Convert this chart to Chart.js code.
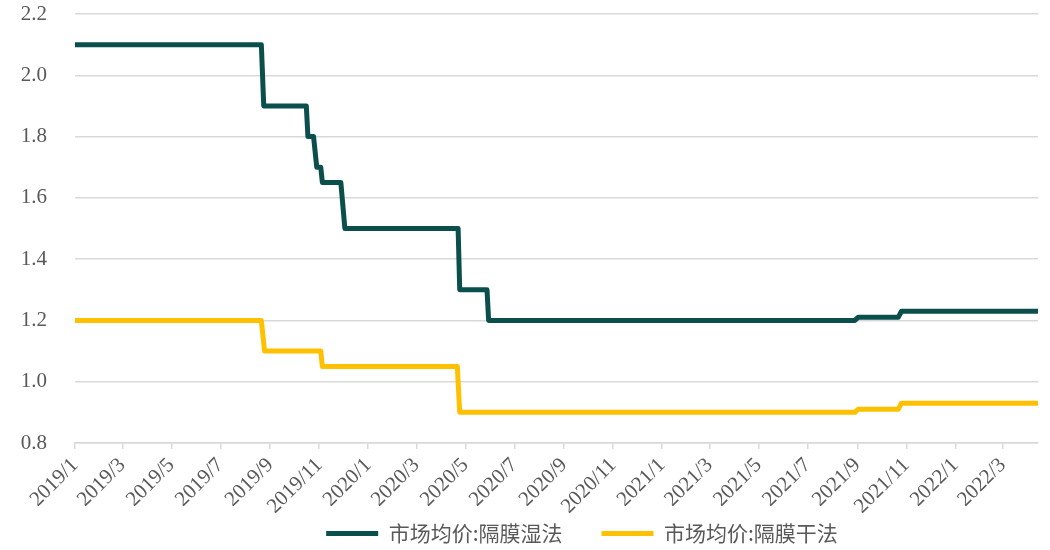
<!DOCTYPE html>
<html>
<head>
<meta charset="utf-8">
<script src="https://cdn.jsdelivr.net/npm/chart.js@4/dist/chart.umd.min.js"></script>
<style>
  html, body { margin: 0; padding: 0; background: #ffffff; }
  #wrap { width: 1050px; height: 550px; position: relative; }
</style>
</head>
<body>
<div id="wrap"><canvas id="c"></canvas></div>
<script>
// Series names
const seriesWet = '市场均价:隔膜湿法';
const seriesDry = '市场均价:隔膜干法';

// Wet-process separator price (step changes)
const wetDates = ['2019-01-01','2019-08-21','2019-08-24','2019-10-16','2019-10-18','2019-10-25','2019-10-29',
  '2019-11-03','2019-11-05','2019-11-28','2019-12-03','2020-04-22','2020-04-24','2020-05-28','2020-05-30',
  '2021-08-29','2021-09-02','2021-10-22','2021-10-26','2022-04-14'];
const wetValues = [2.1, 2.1, 1.9, 1.9, 1.8, 1.8, 1.7,
  1.7, 1.65, 1.65, 1.5, 1.5, 1.3, 1.3, 1.2,
  1.2, 1.21, 1.21, 1.23, 1.23];

// Dry-process separator price (step changes)
const dryDates = ['2019-01-01','2019-08-21','2019-08-25','2019-11-03','2019-11-05','2020-04-21','2020-04-24',
  '2021-08-29','2021-09-02','2021-10-22','2021-10-26','2022-04-14'];
const dryValues = [1.2, 1.2, 1.1, 1.1, 1.05, 1.05, 0.9,
  0.9, 0.91, 0.91, 0.93, 0.93];

// Date axis tick labels (every two months)
const xTickLabels = ['2019/1','2019/3','2019/5','2019/7','2019/9','2019/11','2020/1','2020/3','2020/5',
  '2020/7','2020/9','2020/11','2021/1','2021/3','2021/5','2021/7','2021/9','2021/11','2022/1','2022/3'];

// Value axis range
const yMin = 0.8, yMax = 2.2, yStep = 0.2;

const DAY = 86400000;
const origin = Date.UTC(2019, 0, 1);
function dayIndex(s) {
  const p = s.split(/[-\/]/).map(Number);
  return Math.round((Date.UTC(p[0], p[1] - 1, p[2] || 1) - origin) / DAY);
}
const tickPos = xTickLabels.map(l => dayIndex(l));
const tickText = {};
xTickLabels.forEach((l, i) => { tickText[tickPos[i]] = l; });

const toPoints = (ds, vs) => ds.map((d, i) => ({ x: dayIndex(d), y: vs[i] }));

const textColor = '#595959';
const gridColor = '#d9d9d9';
const serif = '"Liberation Serif", "DejaVu Serif", "Noto Sans CJK SC", serif';

// The legend row sits right of centre and overlaps the foot of the slanted date labels
const legendShift = {
  id: 'legendShift',
  afterLayout(chart) {
    const lg = chart.legend;
    if (!lg) return;
    lg.left += 63; lg.right += 63;
    lg.top -= 37; lg.bottom = chart.height;
  }
};

new Chart(document.getElementById('c'), {
  type: 'line',
  plugins: [legendShift],
  data: {
    datasets: [
      {
        label: seriesWet,
        data: toPoints(wetDates, wetValues),
        borderColor: '#0b4f4c',
        backgroundColor: '#0b4f4c',
        borderWidth: 5,
        borderCapStyle: 'round',
        borderJoinStyle: 'round',
        pointRadius: 0,
        tension: 0
      },
      {
        label: seriesDry,
        data: toPoints(dryDates, dryValues),
        borderColor: '#ffc000',
        backgroundColor: '#ffc000',
        borderWidth: 5,
        borderCapStyle: 'round',
        borderJoinStyle: 'round',
        pointRadius: 0,
        tension: 0
      }
    ]
  },
  options: {
    responsive: true,
    maintainAspectRatio: false,
    animation: false,
    layout: { padding: { left: 0, right: 12, top: 14, bottom: 0 } },
    plugins: {
      tooltip: { enabled: false },
      legend: {
        position: 'bottom',
        maxHeight: 29,
        labels: {
          usePointStyle: true,
          pointStyle: 'line',
          pointStyleWidth: 52,
          color: textColor,
          padding: 39,
          font: { family: '"Noto Sans CJK SC", sans-serif', size: 21 }
        }
      }
    },
    scales: {
      x: {
        type: 'linear',
        min: 0,
        max: dayIndex(wetDates[wetDates.length - 1]),
        afterBuildTicks: (scale) => { scale.ticks = tickPos.map(v => ({ value: v })); },
        afterFit: (scale) => { scale.height = 78; scale.paddingLeft = 0; scale.paddingRight = 0; },
        ticks: {
          autoSkip: false,
          minRotation: 45,
          maxRotation: 45,
          color: textColor,
          padding: 4,
          font: { family: serif, size: 21 },
          callback: (v) => tickText[v] || ''
        },
        grid: {
          drawOnChartArea: false,
          drawTicks: true,
          tickLength: 6,
          color: gridColor,
          lineWidth: 1.5
        },
        border: { display: true, color: gridColor, width: 1.5 }
      },
      y: {
        min: yMin,
        max: yMax,
        afterFit: (scale) => { scale.width = 75; scale.paddingTop = 0; scale.paddingBottom = 0; },
        ticks: {
          stepSize: yStep,
          color: textColor,
          padding: 28,
          font: { family: serif, size: 21 },
          callback: (v) => Number(v).toFixed(1)
        },
        grid: { color: gridColor, lineWidth: 1.5, drawTicks: false },
        border: { display: false }
      }
    }
  }
});
</script>
</body>
</html>
